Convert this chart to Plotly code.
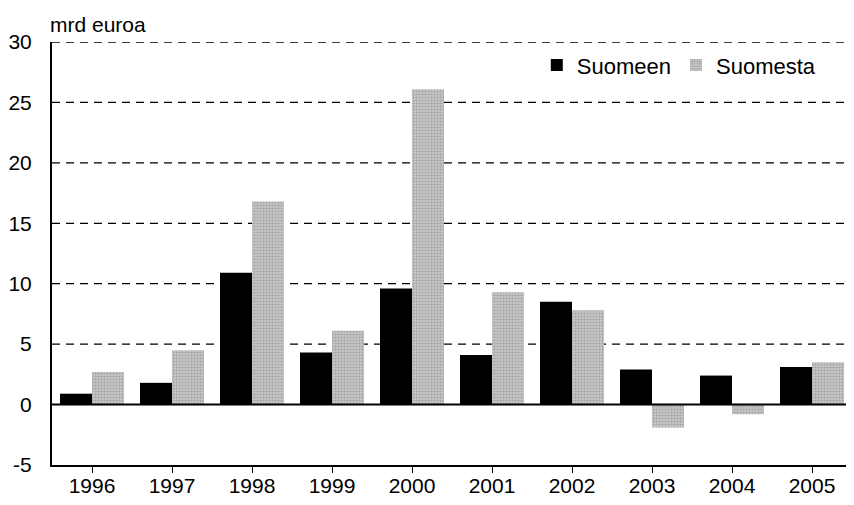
import plotly.graph_objects as go

years = ["1996", "1997", "1998", "1999", "2000", "2001", "2002", "2003", "2004", "2005"]
suomeen = [0.9, 1.8, 10.9, 4.3, 9.6, 4.1, 8.5, 2.9, 2.4, 3.1]
suomesta = [2.7, 4.5, 16.8, 6.1, 26.1, 9.3, 7.8, -1.9, -0.8, 3.5]
y_ticks = [-5, 0, 5, 10, 15, 20, 25, 30]
y_ticktext = ["-5", "0", "5", "10", "15", "20", "25", "30"]
grid_vals = [5, 10, 15, 20, 25, 30]

font = dict(family="Liberation Sans, Arial, sans-serif", size=21, color="black")

fig = go.Figure()
fig.add_trace(go.Bar(x=years, y=suomeen, name="Suomeen",
                     marker=dict(color="black", line=dict(width=0))))
fig.add_trace(go.Bar(x=years, y=suomesta, name="Suomesta",
                     marker=dict(color="#bdbdbd", line=dict(width=0),
                                 pattern=dict(shape=".", fgcolor="#808080",
                                              bgcolor="#c6c6c6", size=3, solidity=0.4))))

# dashed gridlines
for v in grid_vals:
    fig.add_shape(type="line", xref="paper", x0=0, x1=1, yref="y", y0=v, y1=v,
                  line=dict(color="black", width=1.3, dash="8px,6px"), layer="below")
fig.add_shape(type="line", xref="paper", x0=0, x1=1, yref="y", y0=0, y1=0,
              line=dict(color="black", width=2), layer="above")

fig.update_layout(
    width=846, height=497,
    margin=dict(l=44, r=2, t=34, b=40),
    paper_bgcolor="white", plot_bgcolor="white",
    font=font,
    barmode="group", bargap=0.2, bargroupgap=0.0,
    showlegend=True,
    legend=dict(orientation="h", x=0.606, y=0.945, xanchor="left", yanchor="middle",
                bgcolor="rgba(0,0,0,0)", font=dict(size=22),
                traceorder="normal"),
    xaxis=dict(showgrid=False, ticks="outside", ticklen=6, tickwidth=1, tickcolor="black",
               tickfont=dict(size=21), showline=True, linecolor="black", linewidth=2,
               zeroline=False, ticklabelstandoff=-5, automargin=False),
    yaxis=dict(range=[-5, 30], tickvals=y_ticks, ticktext=y_ticktext,
               showgrid=False, zeroline=False, automargin=False,
               showline=True, linecolor="black", linewidth=2, ticks="",
               tickfont=dict(size=21), ticklabelstandoff=14),
    annotations=[dict(text="mrd euroa", xref="paper", yref="paper", x=0.0, y=1.0,
                      yshift=4, xshift=-4, xanchor="left", yanchor="bottom", showarrow=False,
                      font=dict(size=21))],
)

fig.write_html("out.html")
